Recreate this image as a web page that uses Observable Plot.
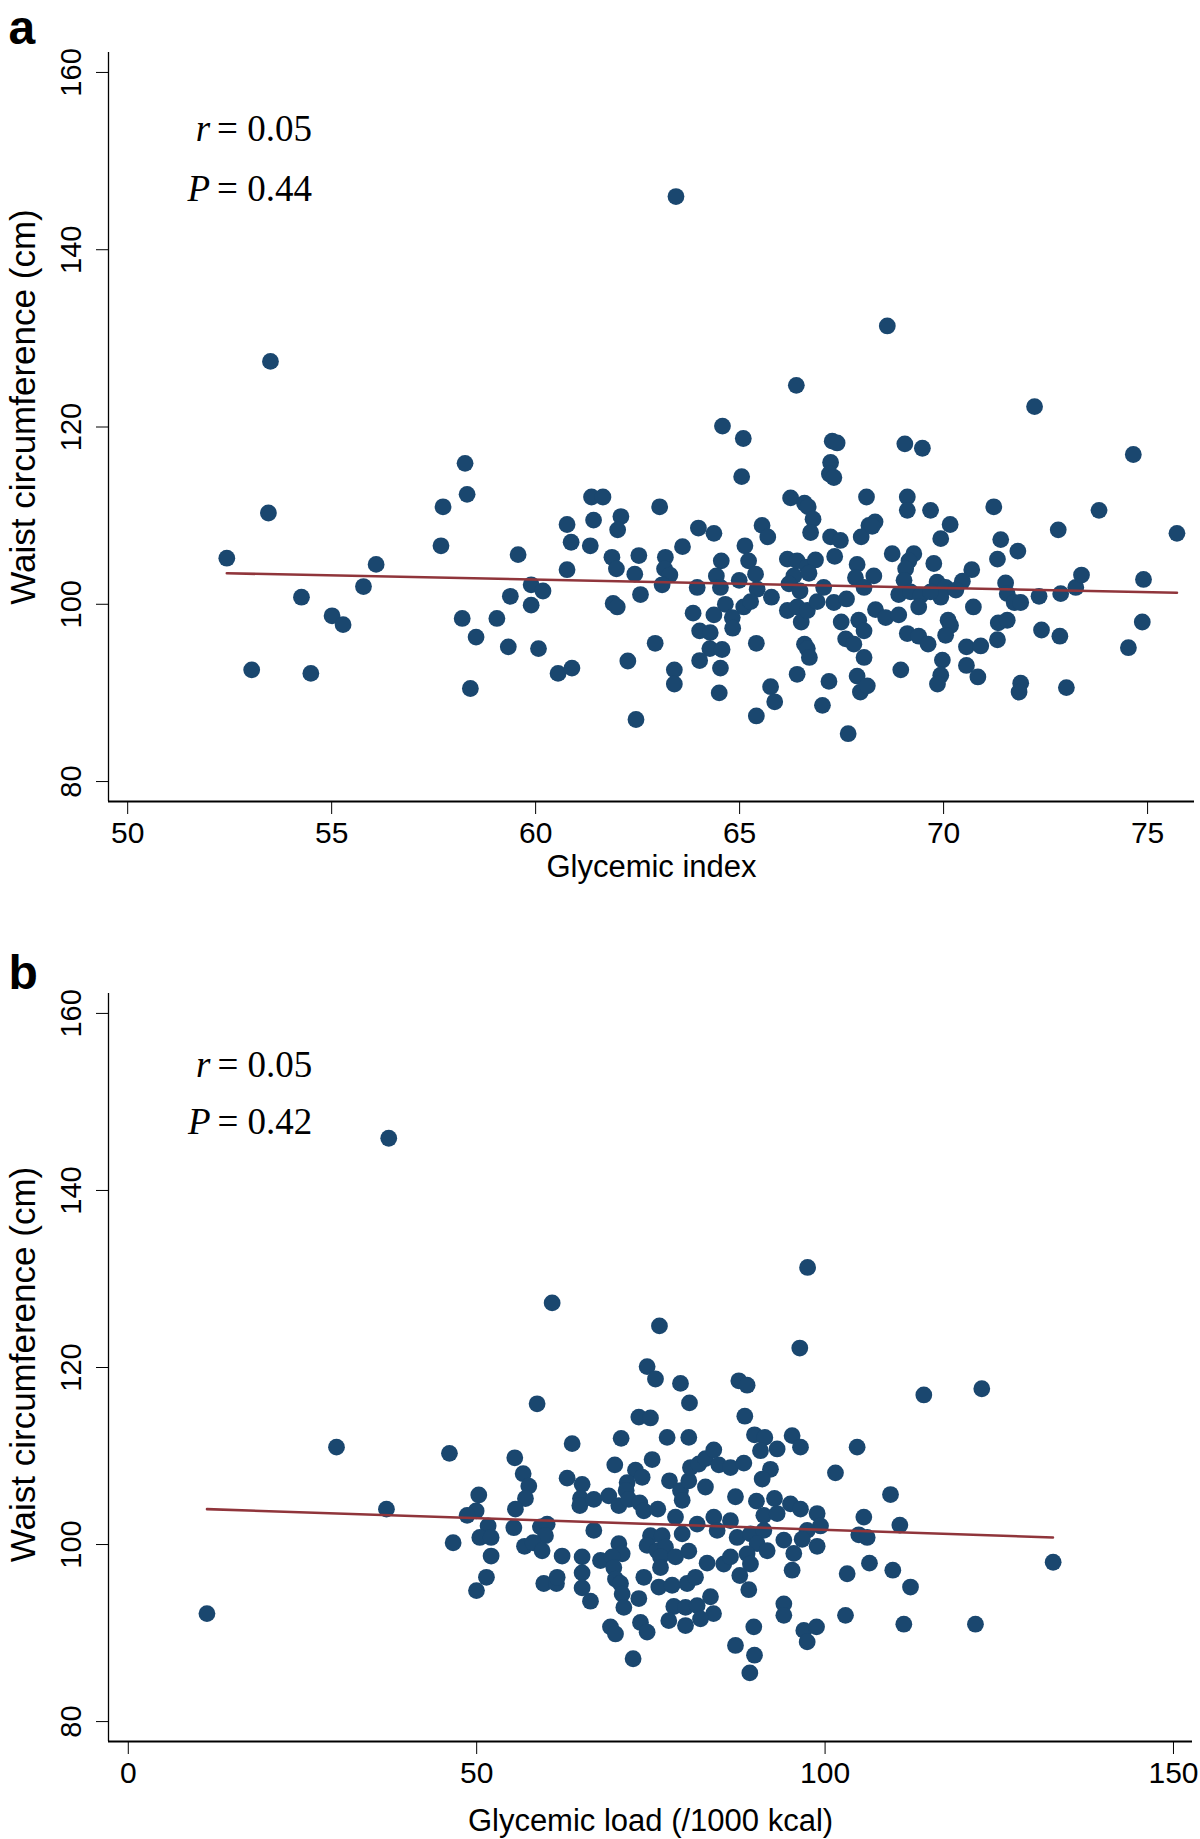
<!DOCTYPE html>
<html><head><meta charset="utf-8">
<script src="https://cdn.jsdelivr.net/npm/d3@7"></script>
<script src="https://cdn.jsdelivr.net/npm/@observablehq/plot@0.6"></script>
<style>
html,body{margin:0;padding:0;background:#fff;}
#wrap{width:1200px;height:1839px;position:relative;overflow:hidden;}
#wrap svg{display:block;}
</style></head><body><div id="wrap"></div>
<script>
// ---------- data ----------
const giA = [52.43,53.45,53.04,54.26,54.49,55.01,55.28,55.78,56.09,58.27,58.32,57.73,57.68,58.20,58.40,58.54,59.05,59.33,59.38,59.57,59.89,59.89,60.07,60.18,53.50,63.44,68.62,
66.39,64.58,65.09,65.05,67.27,67.39,67.23,67.20,67.31,68.11,68.17,66.25,66.59,66.68,66.80,66.74,61.37,61.65,60.77,61.42,62.09,62.01,63.04,60.87,61.34,61.87,61.98,62.53,62.43,60.77,63.60,63.18,63.16,63.29,63.10,63.99,64.37,64.55,64.43,64.53,63.96,65.13,65.22,65.39,64.99,65.43,65.55,65.69,65.78,65.10,65.27,64.65,64.37,64.82,64.83,63.86,64.02,64.28,64.27,64.57,64.02,64.53,64.50,65.41,65.41,65.76,65.86,62.93,62.26,63.40,63.40,62.46,60.55,60.89,61.90,62.00,62.57,66.17,66.41,66.66,66.86,66.33,66.21,66.48,66.70,67.06,66.17,66.41,66.51,66.66,66.90,67.31,67.62,67.33,67.23,67.47,67.98,67.88,67.84,68.05,67.49,67.92,68.05,67.60,67.80,66.59,66.66,66.71,68.05,66.41,67.19,67.88,67.96,67.03,67.66,
72.23,69.05,69.48,74.65,69.11,69.11,69.68,71.23,73.81,68.32,68.25,70.16,69.93,72.81,75.72,71.40,71.82,71.32,68.74,69.27,69.15,69.07,69.76,70.69,70.46,68.29,69.03,69.84,70.05,69.93,70.30,68.90,69.19,69.44,69.68,69.39,71.52,71.56,71.73,71.89,72.34,72.87,73.24,73.38,74.90,70.73,68.33,68.58,68.90,70.11,70.17,70.05,69.11,69.39,69.62,71.34,71.56,71.32,70.56,70.91,72.40,72.85,74.87,74.53,68.95,69.97,69.93,69.85,70.56,70.84,71.89,71.85,73.01,68.13];
const waistA = [105.2,110.3,92.6,100.8,92.2,98.7,97.7,102.0,104.5,115.9,112.4,111.0,106.6,98.4,90.5,96.3,98.4,95.2,100.9,105.6,102.2,99.9,95.0,101.5,127.4,146.0,131.4,
124.7,120.1,118.7,114.4,118.4,118.2,116.0,114.7,114.3,112.1,108.9,112.0,111.4,111.0,109.6,108.1,112.1,112.1,109.0,109.5,109.9,108.4,111.0,107.0,106.6,105.3,104.0,105.5,103.4,103.9,106.5,105.3,104.0,103.3,102.2,108.6,108.0,104.9,103.2,101.9,101.9,106.6,104.9,103.4,102.7,101.7,108.9,107.6,100.8,99.7,100.3,100.0,98.8,98.5,97.3,99.0,97.0,96.8,95.0,94.9,93.65,92.8,90.0,95.6,87.4,90.7,89.0,95.6,93.6,92.6,91.0,87.0,92.2,92.8,100.1,99.7,101.1,105.1,104.9,104.2,105.0,103.2,102.3,101.5,103.5,101.9,99.3,99.7,98.0,99.3,100.3,100.2,100.6,105.4,107.6,107.2,107.6,104.5,103.0,101.9,98.0,98.2,97.0,96.1,95.5,95.5,95.0,94.0,94.0,92.1,91.3,91.9,90.1,88.6,85.4,
122.3,118.1,117.6,116.9,112.1,110.6,110.6,111.0,110.6,109.3,108.8,109.0,107.4,108.4,108.0,107.3,106.0,105.1,105.7,105.7,104.9,104.0,104.6,103.9,102.6,103.2,102.7,102.5,101.9,100.8,101.6,101.1,101.4,101.0,101.4,99.7,102.4,101.2,100.2,100.2,100.9,101.2,101.9,103.3,102.8,99.7,99.4,98.5,98.8,98.2,97.6,96.5,96.7,96.4,95.5,97.9,98.2,96.0,95.2,95.3,97.1,96.4,98.0,95.1,92.6,93.7,92.0,91.0,93.1,91.8,91.1,90.1,90.6,90.8];

const glB = [11.29,29.88,37.38,97.49,
60.83,58.67,46.09,55.47,56.67,57.48,57.00,55.56,37.05,50.30,49.92,48.63,51.64,55.33,59.15,60.11,59.87,50.45,52.07,46.62,52.07,56.86,58.10,59.39,62.26,51.40,49.97,59.63,61.45,61.55,
76.23,96.37,74.46,75.66,79.25,80.54,87.62,88.81,88.48,73.27,74.94,63.70,70.73,77.33,80.44,69.82,75.18,72.79,73.75,71.59,71.45,62.98,65.13,64.90,64.80,66.81,68.96,70.40,71.83,73.41,73.99,75.99,77.67,79.25,79.49,80.44,82.83,80.68,81.88,82.83,84.03,84.75,86.42,88.34,87.14,90.15,89.87,91.35,90.73,93.12,92.16,90.97,95.27,96.47,92.74,95.03,96.47,91.21,93.12,66.81,78.53,79.49,81.64,84.03,86.42,84.51,87.38,89.29,91.21,90.25,74.94,76.62,74.46,75.90,77.09,70.40,70.88,65.13,67.77,69.44,65.13,69.68,69.92,76.38,76.38,78.53,80.44,83.07,85.46,86.42,88.81,89.29,91.69,94.08,95.51,95.27,87.76,89.05,73.99,70.64,70.88,71.12,73.27,65.13,66.33,76.14,78.05,80.20,81.40,83.55,78.29,79.97,81.64,83.99,77.57,79.97,82.12,69.20,69.92,73.51,74.46,72.45,89.77,87.14,89.87,89.20,94.08,94.08,96.95,97.43,
114.17,122.49,104.60,101.49,109.39,98.86,99.34,97.43,96.71,105.56,110.73,104.84,106.04,98.86,106.37,103.17,109.72,112.26,102.93,111.30,121.58,132.73,98.77];
const waistB = [92.2,111.0,145.9,131.3,
127.3,115.9,110.3,109.8,108.0,106.6,105.2,104.0,104.0,105.6,103.8,103.3,102.1,101.9,102.0,102.3,101.0,100.8,100.8,100.2,98.7,99.8,100.2,99.3,98.7,96.3,94.8,95.6,95.6,96.3,
124.7,122.2,120.1,118.7,118.2,116.0,118.5,118.0,114.5,114.4,114.3,111.4,112.0,112.1,112.1,109.0,109.6,108.4,107.6,107.0,106.1,107.5,106.8,105.2,104.4,105.1,105.5,104.4,105.1,104.7,103.8,104.0,107.2,106.1,105.0,107.2,106.5,108.7,109.1,109.7,110.7,109.0,108.7,109.2,105.4,104.9,112.4,112.1,110.6,110.8,108.5,107.4,112.3,111.0,105.2,104.6,104.0,103.3,103.5,101.6,103.1,101.2,102.3,103.1,102.7,101.6,100.8,101.2,101.6,100.1,101.0,101.0,99.9,99.3,99.7,100.1,98.95,98.6,98.2,98.6,96.8,97.4,96.1,98.6,97.4,98.6,99.25,97.9,97.8,98.6,98.95,97.8,99.3,100.5,99.0,97.1,96.5,94.9,96.3,95.6,94.4,92.9,93.9,95.1,93.6,95.2,95.4,95.6,96.3,94.1,93.0,92.9,93.1,92.2,91.4,90.85,91.6,90.7,89.9,91.2,90.1,87.1,90.7,88.6,87.5,85.5,93.3,92.0,90.3,89.0,
116.9,117.6,111.0,108.1,105.65,103.5,102.1,101.6,100.6,103.1,102.2,101.1,100.8,99.8,97.9,96.7,97.1,95.2,92.0,91.0,91.0,98.0,90.7];

// fitted regression lines (end points)
const fitAx = [52.43, 75.72];
const fitAy = [103.5, 101.3];
const fitBx = [11.3, 132.7];
const fitBy = [104.0, 100.8];

// ticks and texts
const yTicks = [80, 100, 120, 140, 160];
const xTicksA = [50, 55, 60, 65, 70, 75];
const xTicksB = [0, 50, 100, 150];
const statSymbols = ["r", "P"];
const statValuesA = ["= 0.05", "= 0.44"];
const statValuesB = ["= 0.05", "= 0.42"];
const panelLabels = ["a", "b"];
const yTitle = "Waist circumference (cm)";
const xTitleA = "Glycemic index";
const xTitleB = "Glycemic load (/1000 kcal)";

// ---------- drawing ----------
const NAVY = "#1a476f", MAROON = "#90353b";
const SANS = "'Liberation Sans', Arial, Helvetica, sans-serif";
const SERIF = "'Liberation Serif', 'Times New Roman', Times, serif";
const yDomain = [77.75, 162.25];

function panel(cfg) {
  const pts = cfg.xs.map((x, i) => ({x, y: cfg.ys[i]}));
  const fit = cfg.fitX.map((x, i) => ({x, y: cfg.fitY[i]}));
  const stats = statSymbols.map((s, i) => ({sym: s, val: cfg.statVals[i], y: cfg.statY[i]}));
  return Plot.plot({
    width: 1200,
    height: cfg.height,
    marginLeft: 108,
    marginRight: cfg.marginRight,
    marginTop: cfg.marginTop,
    marginBottom: cfg.marginBottom,
    style: {fontFamily: SANS, background: "#fff", color: "#000", overflow: "visible"},
    x: {domain: cfg.xDomain},
    y: {domain: yDomain},
    marks: [
      Plot.axisY({ticks: yTicks, tickSize: 12, tickPadding: 16, tickRotate: -90, fontSize: 29,
        label: null, stroke: "#000"}),
      Plot.axisX({ticks: cfg.xTicks, tickSize: 13, tickPadding: 7, fontSize: 30,
        label: null, stroke: "#000"}),
      // axis titles
      Plot.text([yTitle], {frameAnchor: "left", rotate: -90, textAnchor: "middle", lineAnchor: "top",
        dx: -98, dy: cfg.yTitleDy, text: d => d, fontSize: 35, fill: "#000"}),
      Plot.text([cfg.xTitle], {frameAnchor: "bottom", textAnchor: "middle", lineAnchor: "bottom",
        dy: cfg.xLabelOffset, text: d => d, fontSize: 31, fill: "#000"}),
      Plot.ruleX([cfg.xDomain[0]], {stroke: "#000", strokeWidth: 1.3}),
      Plot.ruleY([yDomain[0]], {stroke: "#000", strokeWidth: 2}),
      Plot.dot(pts, {x: "x", y: "y", r: 8.4, fill: NAVY, stroke: "none"}),
      Plot.line(fit, {x: "x", y: "y", stroke: MAROON, strokeWidth: 2.6}),
      Plot.text(stats, {x: cfg.symX, y: "y", text: "sym", textAnchor: "end", lineAnchor: "bottom",
        fontFamily: SERIF, fontStyle: "italic", fontSize: 37, fill: "#000"}),
      Plot.text(stats, {x: cfg.valX, y: "y", text: "val", textAnchor: "start", lineAnchor: "bottom",
        fontFamily: SERIF, fontSize: 37, fill: "#000"}),
      Plot.text([cfg.panelLabel], {frameAnchor: "top-left", dx: -100, dy: cfg.labelDy, text: d => d,
        textAnchor: "start", lineAnchor: "bottom", fontWeight: "bold", fontSize: 48, fill: "#000"})
    ]
  });
}

const wrap = document.getElementById("wrap");
wrap.appendChild(panel({
  xs: giA, ys: waistA, fitX: fitAx, fitY: fitAy,
  height: 920, marginTop: 52, marginBottom: 119, marginRight: 6,
  xDomain: [49.53, 76.15], xTicks: xTicksA, xTitle: xTitleA, xLabelOffset: 75, yTitleDy: -20,
  statVals: statValuesA, statY: [152.25, 145.5], symX: 52.02, valX: 52.19,
  panelLabel: panelLabels[0], labelDy: -9
}));
wrap.appendChild(panel({
  xs: glB, ys: waistB, fitX: fitBx, fitY: fitBy,
  height: 919, marginTop: 73, marginBottom: 98, marginRight: 8,
  xDomain: [-2.84, 152.73], xTicks: xTicksB, xTitle: xTitleB, xLabelOffset: 89, yTitleDy: -3,
  statVals: statValuesB, statY: [152.77, 146.33], symX: 11.80, valX: 12.80,
  panelLabel: panelLabels[1], labelDy: -5
}));
</script>
</body></html>
